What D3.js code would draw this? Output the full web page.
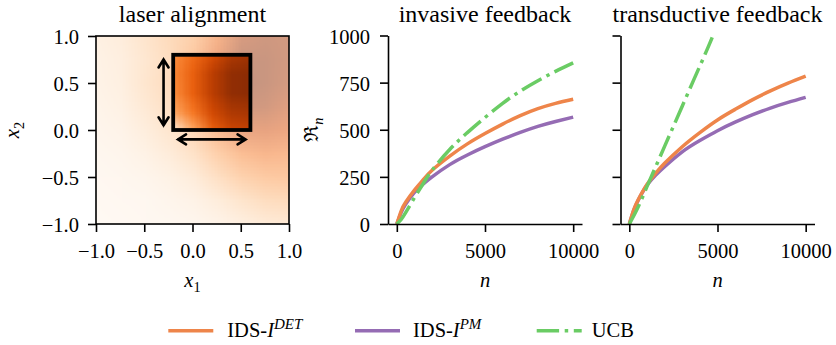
<!DOCTYPE html>
<html><head><meta charset="utf-8">
<script src="https://cdn.jsdelivr.net/npm/d3@7"></script>
<style>
body{margin:0;background:#fff}
svg{display:block}
text{font-family:"Liberation Serif","Times New Roman",Times,serif;fill:#000}
</style>
</head><body>
<svg id="c" width="836" height="345"></svg>
<script>
// ---------- data ----------
// heat map (colormap position, outside layer drawn at half opacity), rows top (x2=1) to bottom (x2=-1)
const heatX = [-1, -0.75, -0.5, -0.25, 0, 0.25, 0.5, 0.75, 1];
const heatY = [1, 0.75, 0.5, 0.25, 0, -0.25, -0.5, -0.75, -1];
const heatRow1  = [0.14, 0.18, 0.26, 0.34, 0.42, 0.62, 0.85, 0.90, 0.88];
const heatRow2  = [0.12, 0.16, 0.24, 0.32, 0.48, 0.72, 0.93, 0.93, 0.88];
const heatRow3  = [0.11, 0.15, 0.25, 0.33, 0.52, 0.78, 0.97, 0.93, 0.86];
const heatRow4  = [0.09, 0.13, 0.22, 0.30, 0.46, 0.70, 0.90, 0.88, 0.80];
const heatRow5  = [0.07, 0.10, 0.17, 0.25, 0.36, 0.56, 0.74, 0.76, 0.72];
const heatRow6  = [0.05, 0.07, 0.12, 0.19, 0.28, 0.42, 0.55, 0.60, 0.58];
const heatRow7  = [0.03, 0.05, 0.07, 0.12, 0.19, 0.30, 0.40, 0.46, 0.48];
const heatRow8  = [0.02, 0.03, 0.04, 0.07, 0.11, 0.18, 0.26, 0.32, 0.34];
const heatRow9  = [0.01, 0.02, 0.03, 0.04, 0.06, 0.10, 0.15, 0.20, 0.22];
// box region (full opacity)
const boxX = [-0.2, 0, 0.2, 0.4, 0.6];
const boxY = [0.8, 0.6, 0.4, 0.2, 0];
const boxRow1 = [0.50, 0.62, 0.74, 0.86, 0.90];
const boxRow2 = [0.52, 0.66, 0.82, 0.94, 0.96];
const boxRow3 = [0.50, 0.66, 0.82, 0.94, 0.96];
const boxRow4 = [0.40, 0.58, 0.76, 0.86, 0.88];
const boxRow5 = [0.10, 0.40, 0.66, 0.78, 0.80];
// annotation arrows in data coords [x1,y1,x2,y2]
const arrowV = [-0.3, 0.05, -0.3, 0.75];
const arrowH = [-0.15, -0.1, 0.55, -0.1];
const heatTicks = [-1, -0.5, 0, 0.5, 1];

// regret curves
const steps = [0, 250, 500, 1000, 1500, 2000, 3000, 4000, 5000, 6000, 7000, 8000, 9000, 10000];
const invDET = [0, 70, 115, 180, 235, 285, 360, 425, 480, 530, 575, 612, 640, 662];
const invPM  = [0, 62, 105, 168, 212, 250, 315, 366, 410, 450, 486, 518, 544, 567];
const invUCB = [0, 25, 60, 140, 215, 285, 395, 485, 565, 640, 705, 760, 810, 855];
const trDET  = [0, 75, 128, 210, 270, 322, 410, 485, 552, 608, 660, 706, 747, 784];
const trPM   = [0, 72, 125, 205, 260, 304, 383, 443, 495, 540, 580, 615, 645, 672];
const trUCBSteps = [0, 500, 1000, 1500, 2000, 2500, 3000, 3500, 4000, 4500, 4700];
const trUCB  = [0, 90, 198, 305, 412, 518, 625, 732, 838, 945, 990];
const regretTicks = [0, 250, 500, 750, 1000];
const stepTicks = [0, 5000, 10000];

const colors = {det: "#ee854a", pm: "#956cb4", ucb: "#6acc64"};
const titles = ["laser alignment", "invasive feedback", "transductive feedback"];

// ---------- drawing ----------
const svg = d3.select("#c");
const FS = 20.5, TFS = 24, SW = 1.6;

// panel 1
const P1 = {l: 96, r: 289, t: 36, b: 224};
const sx1 = d3.scaleLinear().domain([-1, 1]).range([P1.l, P1.r]);
const sy1 = d3.scaleLinear().domain([-1, 1]).range([P1.b, P1.t]);

function gridImage(rows) {
  const h = rows.length, w = rows[0].length;
  const cv = document.createElement("canvas");
  cv.width = w; cv.height = h;
  const ctx = cv.getContext("2d");
  const img = ctx.createImageData(w, h);
  rows.forEach((row, j) => row.forEach((v, i) => {
    const c = d3.rgb(d3.interpolateOranges(v));
    const k = 4 * (j * w + i);
    img.data[k] = c.r; img.data[k+1] = c.g; img.data[k+2] = c.b; img.data[k+3] = 255;
  }));
  ctx.putImageData(img, 0, 0);
  return cv.toDataURL();
}
const defs = svg.append("defs");
defs.append("clipPath").attr("id", "clip1").append("rect")
  .attr("x", P1.l).attr("y", P1.t).attr("width", P1.r - P1.l).attr("height", P1.b - P1.t);
defs.append("clipPath").attr("id", "clipBox").append("rect")
  .attr("x", sx1(boxX[0])).attr("y", sy1(boxY[0]))
  .attr("width", sx1(boxX[boxX.length-1]) - sx1(boxX[0]))
  .attr("height", sy1(boxY[boxY.length-1]) - sy1(boxY[0]));

function placeImage(g, xs, ys, rows, clip, op) {
  const dx = (xs[1] - xs[0]) / 2, dy = (ys[0] - ys[1]) / 2;
  const x0 = sx1(xs[0] - dx), x1 = sx1(xs[xs.length-1] + dx);
  const y0 = sy1(ys[0] + dy), y1 = sy1(ys[ys.length-1] - dy);
  g.append("image").attr("href", gridImage(rows))
    .attr("x", x0).attr("y", y0).attr("width", x1 - x0).attr("height", y1 - y0)
    .attr("preserveAspectRatio", "none")
    .attr("clip-path", `url(#${clip})`).attr("opacity", op);
}
const g1 = svg.append("g");
placeImage(g1, heatX, heatY, [heatRow1, heatRow2, heatRow3, heatRow4, heatRow5, heatRow6, heatRow7, heatRow8, heatRow9], "clip1", 0.5);
placeImage(g1, boxX, boxY, [boxRow1, boxRow2, boxRow3, boxRow4, boxRow5], "clipBox", 1);

// box outline
g1.append("rect")
  .attr("x", sx1(boxX[0])).attr("y", sy1(boxY[0]))
  .attr("width", sx1(boxX[boxX.length-1]) - sx1(boxX[0]))
  .attr("height", sy1(boxY[boxY.length-1]) - sy1(boxY[0]))
  .attr("fill", "none").attr("stroke", "#000").attr("stroke-width", 3.8);

function dblArrow(g, a) {
  const x1 = sx1(a[0]), y1 = sy1(a[1]), x2 = sx1(a[2]), y2 = sy1(a[3]);
  const ang = Math.atan2(y2 - y1, x2 - x1);
  const L = 8, Wd = 5;
  const head = (x, y, dir) => {
    const ux = Math.cos(dir), uy = Math.sin(dir);
    const px = -uy, py = ux;
    return `M${x - ux*L + px*Wd},${y - uy*L + py*Wd}L${x},${y}L${x - ux*L - px*Wd},${y - uy*L - py*Wd}`;
  };
  g.append("path")
    .attr("d", `M${x1},${y1}L${x2},${y2}` + head(x2, y2, ang) + head(x1, y1, ang + Math.PI))
    .attr("fill", "none").attr("stroke", "#000").attr("stroke-width", 2.6)
    .attr("stroke-linejoin", "miter").attr("stroke-linecap", "round");
}
dblArrow(g1, arrowV);
dblArrow(g1, arrowH);

g1.append("rect").attr("x", P1.l).attr("y", P1.t).attr("width", P1.r - P1.l).attr("height", P1.b - P1.t)
  .attr("fill", "none").attr("stroke", "#000").attr("stroke-width", SW);

function styleAxis(sel) {
  sel.selectAll("path.domain").attr("stroke-width", SW).attr("stroke", "#000");
  sel.selectAll(".tick line").attr("stroke-width", SW).attr("stroke", "#000");
  sel.selectAll(".tick text").attr("font-size", FS).attr("font-family", '"Liberation Serif","Times New Roman",serif').attr("fill", "#000");
}
const fmt1 = d3.format(".1f");
const ax1 = svg.append("g").attr("transform", `translate(0,${P1.b})`)
  .call(d3.axisBottom(sx1).tickValues(heatTicks).tickFormat(fmt1).tickSize(8).tickPadding(11).tickSizeOuter(0));
ax1.select(".domain").remove();
styleAxis(ax1);
const ay1 = svg.append("g").attr("transform", `translate(${P1.l},0)`)
  .call(d3.axisLeft(sy1).tickValues(heatTicks).tickFormat(fmt1).tickSize(8).tickPadding(9).tickSizeOuter(0));
ay1.select(".domain").remove();
styleAxis(ay1);
ay1.selectAll(".tick text").attr("dy", "0.38em");

// panels 2, 3
const panels = [
  {l: 388, r: 582, det: invDET, pm: invPM, ucbX: steps, ucb: invUCB, labels: true},
  {l: 620.5, r: 814.5, det: trDET, pm: trPM, ucbX: trUCBSteps, ucb: trUCB, labels: false}
];
const PT = 35.5, PB = 224;
const sy = d3.scaleLinear().domain([0, 1000]).range([PB, PT]);
panels.forEach((p, i) => {
  const sx = d3.scaleLinear().domain([-500, 10500]).range([p.l, p.r]);
  const cid = "clipP" + i;
  defs.append("clipPath").attr("id", cid).append("rect")
    .attr("x", p.l).attr("y", PT - 2).attr("width", p.r - p.l).attr("height", PB - PT + 2);
  const g = svg.append("g").attr("clip-path", `url(#${cid})`);
  const line = d3.line().x(d => sx(d[0])).y(d => sy(d[1])).curve(d3.curveNatural);
  g.append("path").attr("d", line(d3.zip(steps, p.pm))).attr("fill", "none")
    .attr("stroke", colors.pm).attr("stroke-width", 3.5);
  g.append("path").attr("d", line(d3.zip(steps, p.det))).attr("fill", "none")
    .attr("stroke", colors.det).attr("stroke-width", 3.5);
  g.append("path").attr("d", line(d3.zip(p.ucbX, p.ucb))).attr("fill", "none")
    .attr("stroke", colors.ucb).attr("stroke-width", 3.5)
    .attr("stroke-dasharray", "22.4,5.6,3.5,5.6");
  const ax = svg.append("g").attr("transform", `translate(0,${PB})`)
    .call(d3.axisBottom(sx).tickValues(stepTicks).tickFormat(d3.format("d")).tickSize(8).tickPadding(11).tickSizeOuter(0));
  styleAxis(ax);
  const ay = svg.append("g").attr("transform", `translate(${p.l},0)`)
    .call(d3.axisLeft(sy).tickValues(regretTicks).tickFormat(p.labels ? d3.format("d") : () => "").tickSize(8).tickPadding(10).tickSizeOuter(0));
  styleAxis(ay);
  ay.selectAll(".tick text").attr("dy", "0.38em");
});

// titles
const centers = [(P1.l + P1.r) / 2, (panels[0].l + panels[0].r) / 2, (panels[1].l + panels[1].r) / 2];
titles.forEach((t, i) => {
  svg.append("text").attr("x", centers[i]).attr("y", 21.5).attr("text-anchor", "middle")
    .attr("font-size", TFS).text(t);
});

// axis labels
function xlab(x, main, sub) {
  const t = svg.append("text").attr("x", x).attr("y", 287).attr("text-anchor", "middle").attr("font-size", FS);
  t.append("tspan").attr("font-style", "italic").text(main);
  if (sub) t.append("tspan").attr("font-size", FS * 0.7).attr("dy", 5).text(sub);
}
xlab(centers[0], "x", "1");
xlab(centers[1], "n");
xlab(centers[2], "n");
{
  const t = svg.append("text").attr("transform", `translate(19,${(P1.t + P1.b) / 2}) rotate(-90)`)
    .attr("text-anchor", "middle").attr("font-size", FS);
  t.append("tspan").attr("font-style", "italic").text("x");
  t.append("tspan").attr("font-size", FS * 0.7).attr("dy", 5).text("2");
}
{
  const t = svg.append("text").attr("transform", `translate(318,${(PT + PB) / 2}) rotate(-90)`)
    .attr("text-anchor", "middle").attr("font-size", FS);
  t.append("tspan").attr("font-family", '"DejaVu Serif",serif').attr("font-size", FS * 0.95).text("ℜ");
  t.append("tspan").attr("font-size", FS * 0.7).attr("font-style", "italic").attr("dy", 5).text("n");
}

// legend
const legendItems = [
  {key: "det", x: 168.3, tx: 227.3, sup: "DET"},
  {key: "pm", x: 355, tx: 413, sup: "PM"},
  {key: "ucb", x: 536.7, tx: 591.7, sup: null}
];
const LY = 330.7, LB = 336.7;
legendItems.forEach(it => {
  const ln = svg.append("line").attr("x1", it.x).attr("x2", it.x + 45).attr("y1", LY).attr("y2", LY)
    .attr("stroke", colors[it.key]).attr("stroke-width", 3.5);
  if (it.key === "ucb") ln.attr("stroke-dasharray", "22.4,5.6,3.5,5.6");
  const t = svg.append("text").attr("x", it.tx).attr("y", LB).attr("font-size", FS);
  if (it.sup) {
    t.append("tspan").text("IDS-");
    t.append("tspan").attr("font-style", "italic").text("I");
    t.append("tspan").attr("font-style", "italic").attr("font-size", 15).attr("dy", -7.5).text(it.sup);
  } else {
    t.text("UCB");
  }
});
</script>
</body></html>
